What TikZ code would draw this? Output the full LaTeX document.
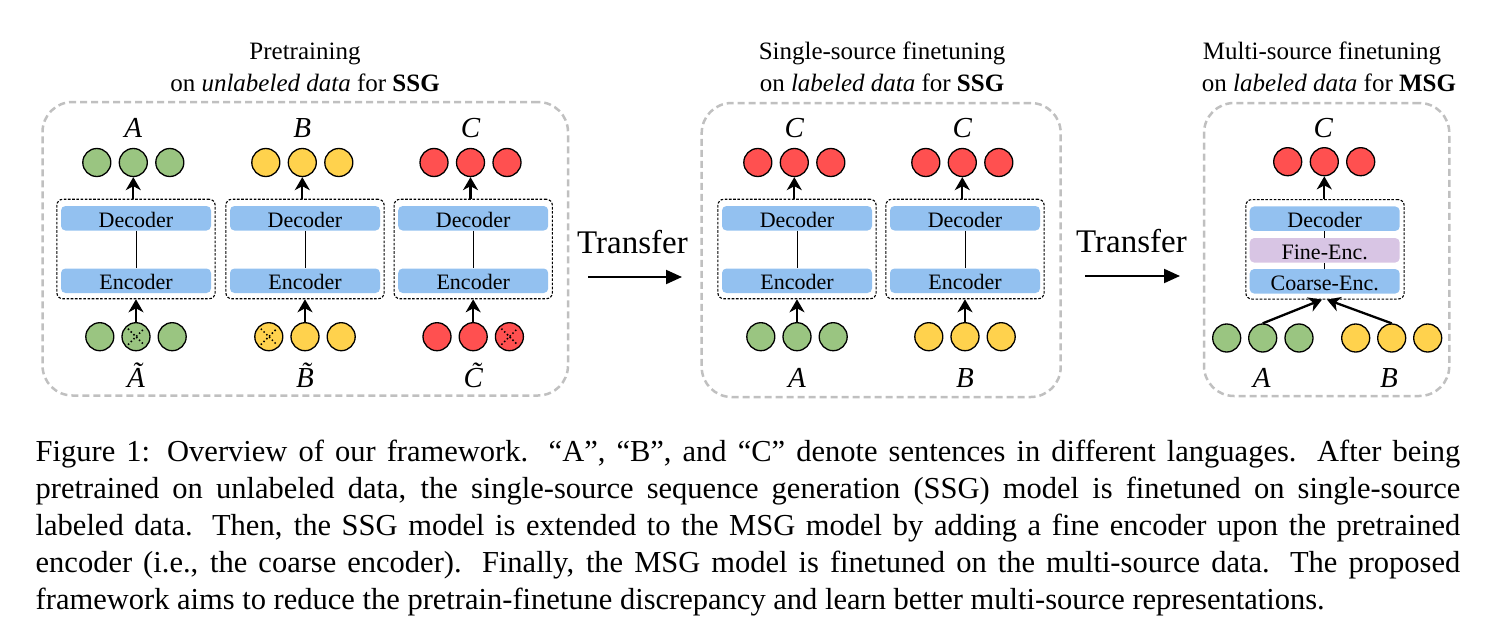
\documentclass[tikz,border=0pt]{standalone}
\usepackage{fontspec}
\setmainfont{Liberation Serif}
\usetikzlibrary{arrows.meta,calc}
\definecolor{cgreen}{HTML}{9AC581}
\definecolor{cyellow}{HTML}{FFD24D}
\definecolor{cred}{HTML}{FF5050}
\definecolor{cblue}{HTML}{93C1F0}
\definecolor{cpurple}{HTML}{D8C5E4}
\definecolor{cgray}{HTML}{C0C0C0}
\newcommand{\fsz}[1]{\fontsize{#1}{#1}\selectfont}
\tikzset{
  panel/.style={draw=cgray, line width=2.5pt, dash pattern=on 7pt off 4pt, rounded corners=30pt, inner sep=0pt},
  ibox/.style={draw=black, line width=1.1pt, dash pattern=on 2.6pt off 1.6pt, rounded corners=6pt, inner sep=0pt, minimum width=158.3pt, minimum height=99.5pt},
  blk/.style={fill=cblue, rounded corners=4.5pt, inner sep=0pt, minimum width=150pt, minimum height=24.5pt, text height=17.5pt, text depth=0pt, font=\fsz{22}},
  tok/.style={circle, draw=black, line width=1.3pt, inner sep=0pt, minimum size=28pt},
  lbl/.style={inner sep=0pt, anchor=base, font=\fsz{29}\itshape},
  ttl/.style={inner sep=0pt, anchor=base, font=\fsz{25}},
  arr/.style={line width=2.3pt, -{Stealth[length=13pt,width=15pt,inset=4pt]}},
  tarr/.style={line width=2pt, -{Triangle[length=16pt,width=14pt]}},
  link/.style={line width=1pt},
  mask/.style={line width=1.5pt, dash pattern=on 1.5pt off 2.4pt},
  capline/.style={inner sep=0pt, anchor=base west, text width=1424.5pt, align=justify, font=\fsz{30.5}},
}
% #1 prefix, #2 cx, #3 top colour, #4 bottom colour, #5 top label, #6 bottom label, #7 masked bottom index (0 none)
\newcommand{\SSGcolumn}[7]{%
  \node[ibox] (#1-box) at (#2,249) {};
  \node[blk] (#1-dec) at (#2,218.25) {Decoder};
  \node[blk] (#1-enc) at (#2,280.75) {Encoder};
  \draw[link] (#1-dec) -- (#1-enc);
  \node[tok, fill=#3] (#1-t1) at (#2-39.2,162.5) {};
  \node[tok, fill=#3] (#1-t2) at (#2-2.7,162.5) {};
  \node[tok, fill=#3] (#1-t3) at (#2+33.8,162.5) {};
  \node[lbl] (#1-tl) at (#2-2.7,137) {#5};
  \node[tok, fill=#4] (#1-b1) at (#2-36.2,336.7) {};
  \node[tok, fill=#4] (#1-b2) at (#2,336.7) {};
  \node[tok, fill=#4] (#1-b3) at (#2+36.2,336.7) {};
  \node[lbl] (#1-bl) at (#2,387) {#6};
  \draw[arr] (#1-box.north -| #1-t2.south) -- (#1-t2.south);
  \draw[arr] (#1-b2.north) -- (#1-box.south -| #1-b2.north);
  \ifnum#7>0
    \draw[mask] (#1-b#7.center) +(-8,-8) -- +(8,8);
    \draw[mask] (#1-b#7.center) +(-8,8) -- +(8,-8);
  \fi
}
\begin{document}
\begin{tikzpicture}[x=1pt,y=-1pt]
\useasboundingbox (0,0) rectangle (1500,629);

% panels
\node[panel, minimum width=525.5pt, minimum height=293.5pt] (P1) at (305.25,248.75) {};
\node[panel, minimum width=359pt, minimum height=294pt] (P2) at (881.2,250) {};
\node[panel, minimum width=245.3pt, minimum height=293pt] (P3) at (1326.65,249.5) {};

% titles
\node[ttl] (T1a) at (305,59.5) {Pretraining};
\node[ttl] (T1b) at (305,91.5) {on \textit{unlabeled data} for \textbf{SSG}};
\node[ttl] (T2a) at (882,59.5) {Single-source finetuning};
\node[ttl] (T2b) at (882,91.5) {on \textit{labeled data} for \textbf{SSG}};
\node[ttl] (T3a) at (1322,59.5) {Multi-source finetuning};
\node[ttl] (T3b) at (1329,91.5) {on \textit{labeled data} for \textbf{MSG}};

% panel 1
\SSGcolumn{pa}{136}{cgreen}{cgreen}{A}{\~A}{2}
\SSGcolumn{pb}{305}{cyellow}{cyellow}{B}{\~B}{1}
\SSGcolumn{pc}{473.2}{cred}{cred}{C}{\~C}{3}

% panel 2
\SSGcolumn{qa}{797}{cred}{cgreen}{C}{A}{0}
\SSGcolumn{qb}{965}{cred}{cyellow}{C}{B}{0}

% transfer arrows
\node[inner sep=0pt, anchor=base, font=\fsz{33}] (tr1) at (632.5,253) {Transfer};
\coordinate (tr1s) at (588,277);
\coordinate (tr1e) at (682,277);
\draw[tarr] (tr1s) -- (tr1e);
\node[inner sep=0pt, anchor=base, font=\fsz{33}] (tr2) at (1131.5,252) {Transfer};
\coordinate (tr2s) at (1085,276);
\coordinate (tr2e) at (1180,276);
\draw[tarr] (tr2s) -- (tr2e);

% panel 3
\node[ibox] (m-box) at (1325,249.3) {};
\node[blk] (m-dec) at (1324.7,218.7) {Decoder};
\node[blk, fill=cpurple] (m-fine) at (1324.7,250.3) {Fine-Enc.};
\node[blk] (m-coarse) at (1324.7,281.3) {Coarse-Enc.};
\draw[link] (m-dec) -- (m-fine);
\draw[link] (m-fine) -- (m-coarse);
\node[tok, fill=cred] (m-t1) at (1287.7,161.7) {};
\node[tok, fill=cred] (m-t2) at (1324.3,161.7) {};
\node[tok, fill=cred] (m-t3) at (1360.7,161.7) {};
\node[lbl] (m-tl) at (1323.3,137) {C};
\node[tok, fill=cgreen] (m-g1) at (1226.7,338) {};
\node[tok, fill=cgreen] (m-g2) at (1262.7,338) {};
\node[tok, fill=cgreen] (m-g3) at (1299,338) {};
\node[tok, fill=cyellow] (m-y1) at (1355.7,338) {};
\node[tok, fill=cyellow] (m-y2) at (1391.7,338) {};
\node[tok, fill=cyellow] (m-y3) at (1427.7,338) {};
\node[lbl] (m-la) at (1261.7,387) {A};
\node[lbl] (m-lb) at (1389,387) {B};
\draw[arr] (m-box.north -| m-t2.south) -- (m-t2.south);
\draw[arr] (m-g2.north) -- ($(m-box.south)+(-3,0)$);
\draw[arr] (m-y2.north) -- ($(m-box.south)+(2,0)$);

% caption
\node[capline] (cap1) at (35.5,461.7) {\parindent=0pt\parfillskip=0pt\relax Figure 1: Overview of our framework. “A”, “B”, and “C” denote sentences in different languages. After being\par};
\node[capline] (cap2) at (35.5,498.7) {\parindent=0pt\parfillskip=0pt\relax pretrained on unlabeled data, the single-source sequence generation (SSG) model is finetuned on single-source\par};
\node[capline] (cap3) at (35.5,535.7) {\parindent=0pt\parfillskip=0pt\relax labeled data. Then, the SSG model is extended to the MSG model by adding a fine encoder upon the pretrained\par};
\node[capline] (cap4) at (35.5,572.7) {\parindent=0pt\parfillskip=0pt\relax encoder (i.e., the coarse encoder). Finally, the MSG model is finetuned on the multi-source data. The proposed\par};
\node[capline] (cap5) at (35.5,609.7) {\parindent=0pt\relax framework aims to reduce the pretrain-finetune discrepancy and learn better multi-source representations.\par};
\end{tikzpicture}
\end{document}
